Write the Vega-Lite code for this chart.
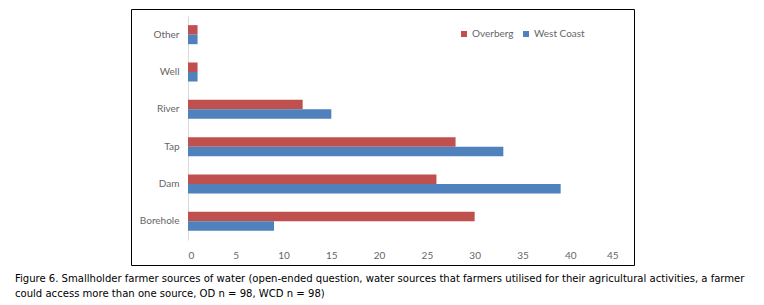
{
  "$schema": "https://vega.github.io/schema/vega-lite/v6.json",
  "width": 503,
  "height": 256,
  "autosize": {"type": "none"},
  "padding": {"left": 131, "top": 9, "right": 130, "bottom": 40},
  "background": "white",
  "config": {
    "view": {"stroke": "#000000", "strokeWidth": 1},
    "font": "Lato"
  },
  "title": {
    "text": ["Figure 6. Smallholder farmer sources of water (open-ended question, water sources that farmers utilised for their agricultural activities, a farmer", "could access more than one source, OD n = 98, WCD n = 98)"],
    "orient": "bottom",
    "anchor": "start",
    "frame": "group",
    "dx": -116,
    "offset": 8,
    "font": "DejaVu Sans Condensed, Liberation Sans",
    "fontSize": 11.2,
    "fontWeight": "normal",
    "color": "#000000",
    "lineHeight": 15
  },
  "data": {
    "values": [
      {"Source": "Other", "Region": "Overberg", "Count": 1},
      {"Source": "Other", "Region": "West Coast", "Count": 1},
      {"Source": "Well", "Region": "Overberg", "Count": 1},
      {"Source": "Well", "Region": "West Coast", "Count": 1},
      {"Source": "River", "Region": "Overberg", "Count": 12},
      {"Source": "River", "Region": "West Coast", "Count": 15},
      {"Source": "Tap", "Region": "Overberg", "Count": 28},
      {"Source": "Tap", "Region": "West Coast", "Count": 33},
      {"Source": "Dam", "Region": "Overberg", "Count": 26},
      {"Source": "Dam", "Region": "West Coast", "Count": 39},
      {"Source": "Borehole", "Region": "Overberg", "Count": 30},
      {"Source": "Borehole", "Region": "West Coast", "Count": 9}
    ]
  },
  "mark": {"type": "bar"},
  "encoding": {
    "y": {
      "field": "Source",
      "type": "nominal",
      "sort": ["Other", "Well", "River", "Tap", "Dam", "Borehole"],
      "scale": {"range": [7, 231], "paddingInner": 0.49, "paddingOuter": 0.245},
      "axis": {
        "title": null,
        "offset": -57,
        "ticks": false,
        "domain": true,
        "domainColor": "#D9D9D9",
        "labelPadding": 9,
        "labelFontSize": 10,
        "labelColor": "#666666",
        "grid": false
      }
    },
    "yOffset": {
      "field": "Region",
      "type": "nominal",
      "sort": ["Overberg", "West Coast"],
      "scale": {"paddingInner": 0, "paddingOuter": 0}
    },
    "x": {
      "field": "Count",
      "type": "quantitative",
      "scale": {"domain": [0, 45], "range": [57, 487], "nice": false},
      "axis": {
        "title": null,
        "values": [0, 5, 10, 15, 20, 25, 30, 35, 40, 45],
        "offset": -17,
        "ticks": false,
        "domain": false,
        "grid": false,
        "labelPadding": 2,
        "labelFontSize": 10,
        "labelColor": "#666666"
      }
    },
    "color": {
      "field": "Region",
      "type": "nominal",
      "sort": ["Overberg", "West Coast"],
      "scale": {"domain": ["Overberg", "West Coast"], "range": ["#C0504D", "#4F81BD"]},
      "legend": {
        "title": null,
        "orient": "none",
        "legendX": 328,
        "legendY": 20,
        "direction": "horizontal",
        "symbolType": "square",
        "symbolSize": 36,
        "symbolStrokeWidth": 0,
        "labelFontSize": 10,
        "labelColor": "#666666",
        "labelOffset": 3,
        "columnPadding": 7
      }
    }
  }
}
